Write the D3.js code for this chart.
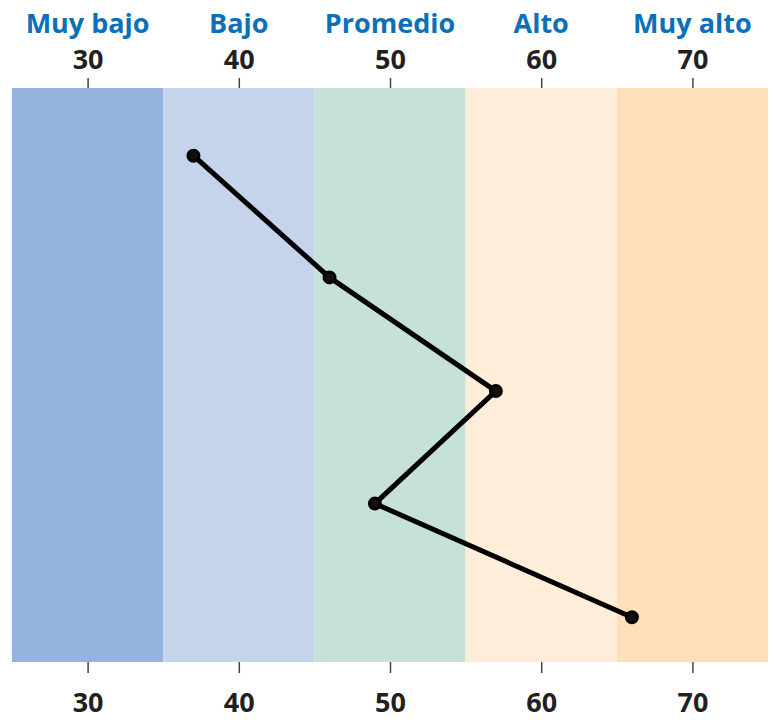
<!DOCTYPE html>
<html>
<head>
<meta charset="utf-8">
<script src="https://cdn.jsdelivr.net/npm/d3@7"></script>
<style>
  body { margin: 0; background: #fff; }
  text { font-family: "Open Sans", sans-serif; font-weight: 700; }
</style>
</head>
<body>
<svg id="chart" width="776" height="720"></svg>
<script>
// bands of the score scale
const bandLabels = ['Muy bajo', 'Bajo', 'Promedio', 'Alto', 'Muy alto'];
const bandStarts = [25, 35, 45, 55, 65];
const bandEnds = [35, 45, 55, 65, 75];
const bandColors = ['#95b3dd', '#c5d4eb', '#c6e2d7', '#feeed9', '#fddfb9'];

// ticks
const tickValues = [30, 40, 50, 60, 70];

// line points: score and row position (top to bottom)
const scores = [37, 46, 57, 49, 66];
const rows = [0.59, 1.65, 2.64, 3.62, 4.61];

const svg = d3.select('#chart');
const margin = {top: 88, right: 8, bottom: 58, left: 12};
const width = 776 - margin.left - margin.right;
const height = 720 - margin.top - margin.bottom;

const x = d3.scaleLinear().domain([25, 75]).range([0, width]);
const y = d3.scaleLinear().domain([0, 5]).range([0, height]);

const g = svg.append('g')
    .attr('transform', `translate(${margin.left},${margin.top})`);

//background bands
g.selectAll('rect.band')
    .data(bandStarts)
    .join('rect')
    .attr('class', 'band')
    .attr('x', d => x(d))
    .attr('y', 0)
    .attr('width', (d, i) => x(bandEnds[i]) - x(d))
    .attr('height', height)
    .attr('fill', (d, i) => bandColors[i]);

//axes
const fmt = d3.format('d');
const topAxis = g.append('g')
    .call(d3.axisTop(x).tickValues(tickValues).tickSize(10).tickPadding(9).tickFormat(fmt));
const bottomAxis = g.append('g')
    .attr('transform', `translate(0,${height})`)
    .call(d3.axisBottom(x).tickValues(tickValues).tickSize(11).tickPadding(20).tickFormat(fmt));

[topAxis, bottomAxis].forEach(a => {
    a.select('.domain').remove();
    a.selectAll('.tick line').attr('stroke', '#444').attr('stroke-width', 1.5);
    a.selectAll('.tick text')
        .attr('fill', '#231f20')
        .style('font-size', '27px')
        .style('font-family', '"Open Sans", sans-serif')
        .style('font-weight', 700);
});

//category labels above the numbers
g.selectAll('text.cat')
    .data(bandLabels)
    .join('text')
    .attr('class', 'cat')
    .attr('x', (d, i) => x(tickValues[i]))
    .attr('y', -55)
    .attr('text-anchor', 'middle')
    .attr('fill', '#0b70b7')
    .style('font-size', '27px')
    .text(d => d);

//profile line
const pts = scores.map((s, i) => [s, rows[i]]);
g.append('path')
    .datum(pts)
    .attr('fill', 'none')
    .attr('stroke', '#000')
    .attr('stroke-width', 5)
    .attr('d', d3.line().x(d => x(d[0])).y(d => y(d[1])));

g.selectAll('circle.pt')
    .data(pts)
    .join('circle')
    .attr('class', 'pt')
    .attr('cx', d => x(d[0]))
    .attr('cy', d => y(d[1]))
    .attr('r', 5.5)
    .attr('fill', '#111')
    .attr('stroke', '#000')
    .attr('stroke-width', 3);
</script>
</body>
</html>
